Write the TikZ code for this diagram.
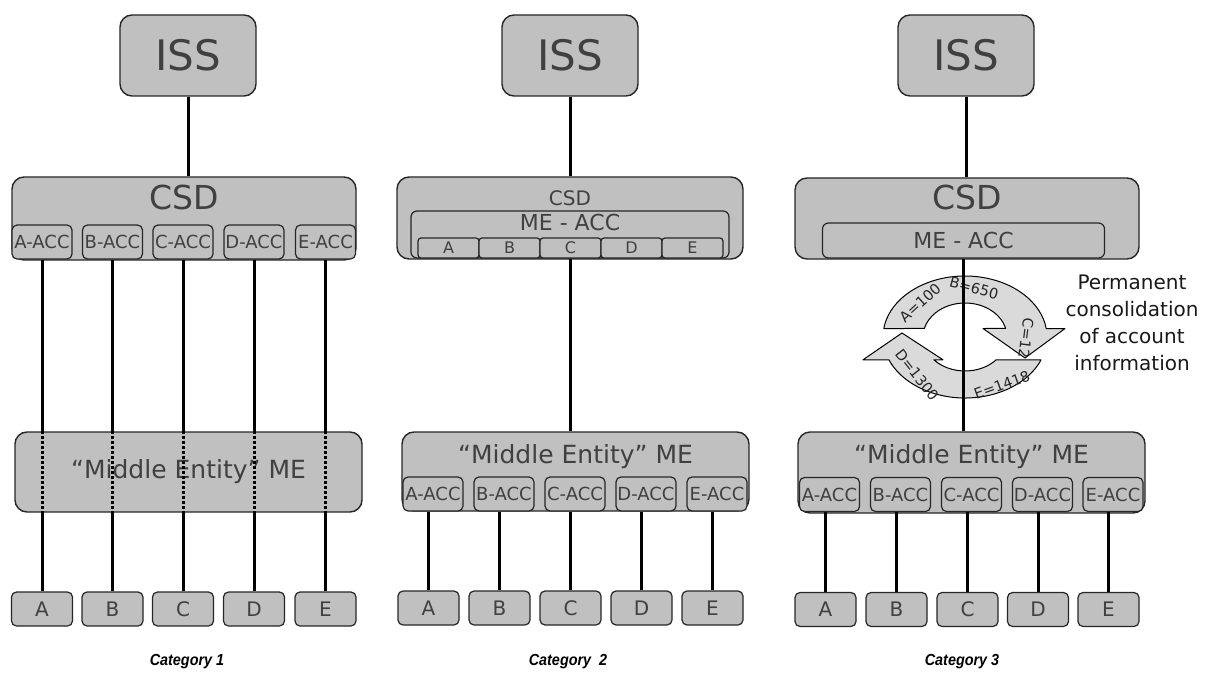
\documentclass[tikz,border=0pt]{standalone}
\usepackage{fontspec}
\setmainfont{DejaVu Sans}
\newfontfamily\catfont[FakeStretch=0.9]{Liberation Sans}
\usepackage{xcolor}
\usepackage{tikz}

\definecolor{boxfill}{HTML}{C0C0C0}
\definecolor{boxline}{HTML}{262626}
\definecolor{boxtext}{HTML}{404040}
\definecolor{cyclefill}{HTML}{DADADA}

\begin{document}
\begin{tikzpicture}[x=1pt, y=-1pt,
    bigbox/.style={draw=boxline, fill=boxfill, line width=1.4pt, rounded corners=12pt, inner sep=0pt, text=boxtext},
    issbox/.style={bigbox, minimum width=136pt, minimum height=81pt, font=\fontsize{42}{48}\selectfont},
    accbox/.style={draw=boxline, fill=boxfill, line width=1.2pt, rounded corners=5pt, inner sep=0pt,
                   minimum width=60pt, minimum height=34pt, text=boxtext, font=\fontsize{18}{20}\selectfont},
    leafbox/.style={accbox, minimum width=61pt, font=\fontsize{20}{22}\selectfont},
    cellbox/.style={accbox, minimum width=61pt, minimum height=20pt, rounded corners=3pt, font=\fontsize{16}{17}\selectfont},
    boxlabel/.style={inner sep=0pt, text=boxtext},
    conn/.style={line width=3pt, black},
    dotconn/.style={line width=3pt, black, dash pattern=on 3pt off 2pt},
    cycarrow/.style={draw=black, fill=cyclefill, line width=1pt, line join=round},
    cyclabel/.style={inner sep=0pt, text=black!85, font=\fontsize{14.5}{16}\selectfont},
    catlabel/.style={inner sep=0pt, font=\catfont\fontsize{16}{18}\selectfont\bfseries\itshape}]

    \useasboundingbox (0,0) rectangle (1206,676);

    % Category 1: one account per client at the CSD
    \node[issbox] (iss1) at (188,55.5) {ISS};
    \node[bigbox, minimum width=344pt, minimum height=83pt] (csd1) at (184,218.5) {};
    \node[boxlabel, font=\fontsize{33}{38}\selectfont] (csd1-t) at (184,197) {CSD};
    \foreach \l/\L/\x in {a/A/42, b/B/112.5, c/C/183, d/D/254, e/E/325.5}
        \node[accbox] (acc1-\l) at (\x,242) {\L-ACC};
    \node[bigbox, minimum width=347pt, minimum height=80pt] (me1) at (188.5,472) {};
    \node[boxlabel, font=\fontsize{25}{30}\selectfont] (me1-t) at (188.5,472) {“Middle Entity” ME};
    \foreach \l/\L/\x in {a/A/42, b/B/112.5, c/C/183, d/D/254, e/E/325.5}
        \node[leafbox] (box1-\l) at (\x,609) {\L};
    \node[catlabel] (cat1) at (187,662) {Category 1};

    \draw[conn] (iss1.south) -- (iss1.south |- csd1.north);
    \foreach \l in {a,b,c,d,e} {
        \draw[conn] (acc1-\l.south) -- (acc1-\l.south |- me1.north);
        \draw[dotconn] (acc1-\l.south |- me1.north) -- (acc1-\l.south |- me1.south);
        \draw[conn] (acc1-\l.south |- me1.south) -- (box1-\l.north);
    }

    % Category 2: one omnibus account split into sub-accounts
    \node[issbox] (iss2) at (570,55.5) {ISS};
    \node[bigbox, minimum width=346pt, minimum height=82pt] (csd2) at (570,218) {};
    \node[boxlabel, font=\fontsize{20}{24}\selectfont] (csd2-t) at (570,198) {CSD};
    \node[bigbox, line width=1.2pt, rounded corners=6pt, minimum width=318pt, minimum height=47pt] (meacc2) at (570,234.5) {};
    \node[boxlabel, font=\fontsize{22}{26}\selectfont] (meacc2-t) at (570,222) {ME - ACC};
    \foreach \l/\L/\x in {a/A/448.5, b/B/509.5, c/C/570.5, d/D/631.5, e/E/692.5}
        \node[cellbox] (cell2-\l) at (\x,248) {\L};
    \node[bigbox, minimum width=347pt, minimum height=79pt] (me2) at (575.5,471.5) {};
    \node[boxlabel, font=\fontsize{25}{30}\selectfont] (me2-t) at (575.5,457) {“Middle Entity” ME};
    \foreach \l/\L/\x in {a/A/433, b/B/504, c/C/575, d/D/646, e/E/717}
        \node[accbox] (acc2-\l) at (\x,494) {\L-ACC};
    \foreach \l/\L/\x in {a/A/428.5, b/B/499.5, c/C/570.5, d/D/641.5, e/E/712.5}
        \node[leafbox] (box2-\l) at (\x,608) {\L};
    \node[catlabel] (cat2) at (568,662) {Category\ \ 2};

    \draw[conn] (iss2.south) -- (iss2.south |- csd2.north);
    \draw[conn] (meacc2.south) -- (meacc2.south |- me2.north);
    \foreach \l in {a,b,c,d,e}
        \draw[conn] (box2-\l.north) -- (box2-\l.north |- acc2-\l.south);

    % Category 3: omnibus account, consolidated account information
    \node[issbox] (iss3) at (966,55.5) {ISS};
    \node[bigbox, minimum width=344pt, minimum height=81pt] (csd3) at (967,218.5) {};
    \node[boxlabel, font=\fontsize{33}{38}\selectfont] (csd3-t) at (967,197) {CSD};
    \node[bigbox, line width=1.2pt, rounded corners=6pt, minimum width=282pt, minimum height=35pt,
          font=\fontsize{22}{26}\selectfont] (meacc3) at (963.5,240.5) {ME - ACC};
    \node[bigbox, minimum width=347pt, minimum height=81pt] (me3) at (971.5,472.5) {};
    \node[boxlabel, font=\fontsize{25}{30}\selectfont] (me3-t) at (971.5,457) {“Middle Entity” ME};
    \foreach \l/\L/\x in {a/A/829.5, b/B/900.5, c/C/971.5, d/D/1042.5, e/E/1113}
        \node[accbox] (acc3-\l) at (\x,494.5) {\L-ACC};
    \foreach \l/\L/\x in {a/A/825.5, b/B/896.5, c/C/967.5, d/D/1038, e/E/1108.5}
        \node[leafbox] (box3-\l) at (\x,609.5) {\L};
    \node[catlabel] (cat3) at (962,662) {Category 3};

    % circular arrows
    \coordinate (cyc) at (965,337);
    \begin{scope}[shift={(cyc)}, y=1pt]
        \draw[cycarrow] (172:82 and 61) arc[start angle=172, end angle=8, x radius=82pt, y radius=61pt]
            -- (100,8.5) -- (60,-21) -- (18,8.5)
            -- (14.5:42 and 34) arc[start angle=14.5, end angle=165.5, x radius=42pt, y radius=34pt] -- cycle;
        \draw[cycarrow] (-22:82 and 61) arc[start angle=-22, end angle=-158, x radius=82pt, y radius=61pt]
            -- (-102,-22.8) -- (-63,4) -- (-22,-22.8)
            -- (-138:42 and 34) arc[start angle=-138, end angle=-42, x radius=42pt, y radius=34pt] -- cycle;
        \node[cyclabel, rotate=42] (val-a) at (-45,34) {A=100};
        \node[cyclabel, rotate=-15] (val-b) at (9,49) {B=650};
        \node[cyclabel, rotate=-97] (val-c) at (61,-1) {C=12};
        \node[cyclabel, rotate=-52] (val-d) at (-48,-38) {D=1300};
        \node[cyclabel, rotate=20] (val-e) at (37,-48) {E=1418};
    \end{scope}
    \node[inner sep=0pt, align=center, text=black!90, font=\fontsize{20}{27}\selectfont] (note) at (1132,323)
        {Permanent\\consolidation\\of account\\information};

    \draw[conn] (iss3.south) -- (iss3.south |- csd3.north);
    \draw[conn] (meacc3.south) -- (meacc3.south |- me3.north);
    \foreach \l in {a,b,c,d,e}
        \draw[conn] (box3-\l.north) -- (box3-\l.north |- acc3-\l.south);
\end{tikzpicture}
\end{document}
